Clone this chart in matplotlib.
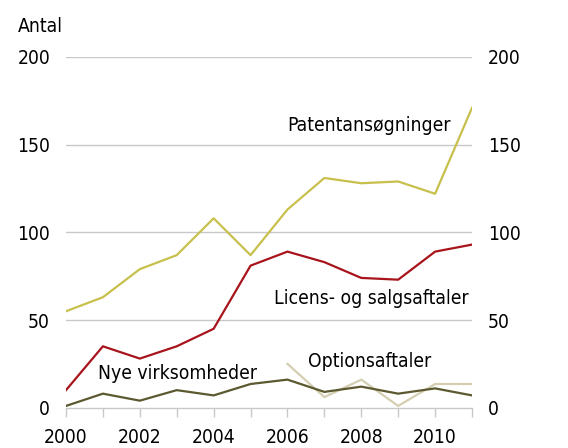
import matplotlib
matplotlib.use("Agg")
import matplotlib.pyplot as plt

plt.rcParams['font.family'] = ['DejaVu Sans']
plt.rcParams['font.stretch'] = 'condensed'

years = list(range(2000, 2012))
patent = [55, 63, 79, 87, 108, 87, 113, 131, 128, 129, 122, 171]
licens = [10, 35, 28, 35, 45, 81, 89, 83, 74, 73, 89, 93]
nye = [1, 8, 4, 10, 7, 13.5, 16, 9, 12, 8, 11, 7]
opt_years = [2006, 2007, 2008, 2009, 2010, 2011]
options = [25, 6, 16, 1, 13.5, 13.5]

fig = plt.figure(figsize=(5.68, 4.48), dpi=100)
ax = fig.add_axes([0.1162, 0.09, 0.7148, 0.7828])

fs = 13.9
ax.set_xlim(2000, 2011)
ax.set_ylim(0, 200)
yt = [0, 50, 100, 150, 200]
for v in yt[1:]:
    ax.axhline(v, color='#c8c8c8', lw=1.0, zorder=0)

ax.plot(years, patent, color='#c8c04c', lw=1.6)
ax.plot(years, licens, color='#a8141c', lw=1.6)
ax.plot(opt_years, options, color='#d4cfb2', lw=1.6)
ax.plot(years, nye, color='#5c5930', lw=1.6)

for s in ['top', 'left', 'right']:
    ax.spines[s].set_visible(False)
ax.spines['bottom'].set_color('#c8c8c8')
ax.spines['bottom'].set_linewidth(1.0)

ax.set_xticks(years)
ax.set_xticklabels([str(y) if y % 2 == 0 else '' for y in years], fontsize=fs)
ax.tick_params(axis='x', length=6.8, color='#c8c8c8', width=1.0, pad=8)
ax.set_yticks(yt)
ax.set_yticklabels([str(v) for v in yt], fontsize=fs)
ax.tick_params(axis='y', length=0, pad=11.5)

ax2 = ax.twinx()
ax2.set_ylim(0, 200)
ax2.set_yticks(yt)
ax2.set_yticklabels([str(v) for v in yt], fontsize=fs)
ax2.tick_params(axis='y', length=0, pad=11.3)
for s in ['top', 'left', 'right', 'bottom']:
    ax2.spines[s].set_visible(False)

fig.text(18/568, 1-27/448, 'Antal', fontsize=fs, va='center', ha='left')

ax.text(2006.0, 161, 'Patentansøgninger', fontsize=fs, va='center', ha='left')
ax.text(2005.64, 62.3, 'Licens- og salgsaftaler', fontsize=fs, va='center', ha='left')
ax.text(2006.56, 26.4, 'Optionsaftaler', fontsize=fs, va='center', ha='left')
ax.text(2000.86, 19.3, 'Nye virksomheder', fontsize=fs, va='center', ha='left')

fig.savefig('out.png', dpi=100)
